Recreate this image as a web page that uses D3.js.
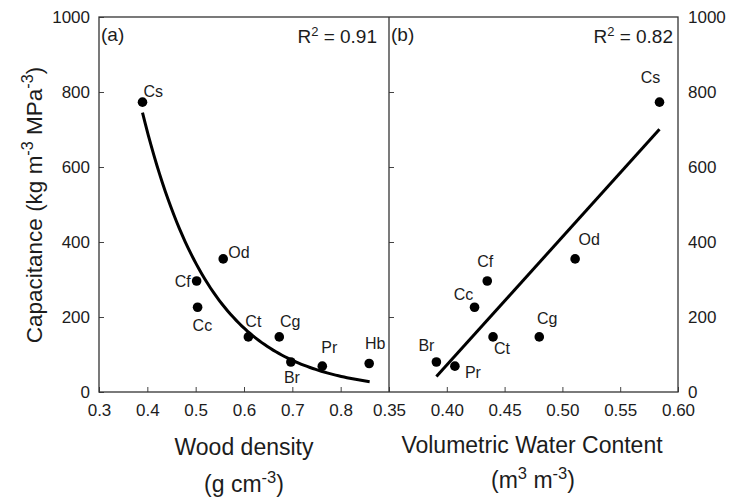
<!DOCTYPE html>
<html><head><meta charset="utf-8">
<script src="https://cdn.jsdelivr.net/npm/d3@7/dist/d3.min.js"></script>
<style>
html,body{margin:0;padding:0;background:#fff;}
svg{display:block;font-family:"Liberation Sans",Arial,sans-serif;}
</style></head>
<body><svg id="c" width="729" height="499"></svg>
<script>
// ---- data ----
const species      = ["Cs","Od","Cf","Cc","Ct","Cg","Br","Pr","Hb"];
const woodDensity  = [0.390,0.557,0.502,0.504,0.609,0.673,0.697,0.762,0.859];
const waterContent = [0.584,0.511,0.435,0.424,0.440,0.480,0.391,0.407,null];
const capacitance  = [773,355,296,226,147,147,80,69,76];
const yTicks  = [0,200,400,600,800,1000];
const xTicksA = [0.3,0.4,0.5,0.6,0.7,0.8,0.9];
const xTicksB = [0.35,0.40,0.45,0.50,0.55,0.60];
// fits: (a) exponential y = a*exp(b*x); (b) linear y = m*x + c
const fitA = {a:11510, b:-7.02, from:0.39, to:0.86, r2:"0.91"};
const fitB = {m:3415, c:-1294, from:0.391, to:0.584, r2:"0.82"};

(function(){
const svg = d3.select("#c");
const ink = "#1c1c1c";
const yTop=17, yBot=392, L0=99, mid=389, R1=678;
const y  = d3.scaleLinear().domain([0,1000]).range([yBot,yTop]);
const xA = d3.scaleLinear().domain([0.3,0.9]).range([L0,mid]);
const xB = d3.scaleLinear().domain([0.35,0.60]).range([mid,R1]);

function styleAxis(g){
  g.select(".domain").remove();
  g.selectAll(".tick line").attr("stroke","#444").attr("stroke-width",1);
  g.selectAll(".tick text").attr("fill",ink).attr("font-size",17)
   .attr("font-family","'Liberation Sans',Arial,sans-serif");
}
svg.append("g").attr("transform",`translate(${L0},0)`)
  .call(d3.axisLeft(y).tickValues(yTicks).tickSize(-5).tickPadding(9).tickFormat(d3.format("d")))
  .call(styleAxis);
svg.append("g").attr("transform",`translate(${mid},0)`)
  .call(d3.axisRight(y).tickValues(yTicks.slice(1,5)).tickSize(5).tickFormat(""))
  .call(styleAxis);
svg.append("g").attr("transform",`translate(${R1},0)`)
  .call(d3.axisRight(y).tickValues(yTicks).tickSize(0).tickPadding(10).tickFormat(d3.format("d")))
  .call(styleAxis);
svg.append("g").attr("transform",`translate(0,${yBot})`)
  .call(d3.axisBottom(xA).tickValues(xTicksA).tickSize(-5).tickPadding(12)
    .tickFormat(d => d===0.9 ? "" : d3.format(".1f")(d)))
  .call(styleAxis);
svg.append("g").attr("transform",`translate(0,${yBot})`)
  .call(d3.axisBottom(xB).tickValues(xTicksB).tickSize(-5).tickPadding(12).tickFormat(d3.format(".2f")))
  .call(styleAxis);

svg.append("rect").attr("x",L0).attr("y",yTop).attr("width",R1-L0).attr("height",yBot-yTop)
  .attr("fill","none").attr("stroke","#333").attr("stroke-width",1.3);
svg.append("line").attr("x1",mid).attr("x2",mid).attr("y1",yTop).attr("y2",yBot)
  .attr("stroke","#333").attr("stroke-width",1.3);

const line = d3.line();
const ptsA = d3.range(fitA.from, fitA.to+1e-9, (fitA.to-fitA.from)/80)
  .map(x => [xA(x), y(fitA.a*Math.exp(fitA.b*x))]);
svg.append("path").attr("d",line(ptsA)).attr("fill","none").attr("stroke","#000").attr("stroke-width",3);
svg.append("path").attr("d",line([fitB.from,fitB.to].map(x=>[xB(x), y(fitB.m*x+fitB.c)])))
  .attr("fill","none").attr("stroke","#000").attr("stroke-width",3);

const rows = species.map((s,i)=>({s, d:woodDensity[i], w:waterContent[i], c:capacitance[i]}));
svg.append("g").selectAll("circle").data(rows).join("circle")
  .attr("cx",r=>xA(r.d)).attr("cy",r=>y(r.c)).attr("r",4.8).attr("fill","#000");
svg.append("g").selectAll("circle").data(rows.filter(r=>r.w!=null)).join("circle")
  .attr("cx",r=>xB(r.w)).attr("cy",r=>y(r.c)).attr("r",4.8).attr("fill","#000");

const offA = {Cs:[1,-5,"start"],Od:[5,-1,"start"],Cf:[-6,6,"end"],Cc:[-5,24,"start"],
  Ct:[5,-10,"middle"],Cg:[11,-10,"middle"],Br:[1,21,"middle"],Pr:[7,-13,"middle"],Hb:[6,-15,"middle"]};
const offB = {Cs:[-9,-19,"middle"],Od:[14,-14,"middle"],Cf:[-2,-14,"middle"],Cc:[-11,-7,"middle"],
  Ct:[9,17,"middle"],Cg:[8,-13,"middle"],Br:[-10,-11,"middle"],Pr:[18,12,"middle"]};
function labels(data, xs, key, off){
  svg.append("g").selectAll("text").data(data).join("text")
    .attr("x",r=>xs(r[key])+off[r.s][0]).attr("y",r=>y(r.c)+off[r.s][1])
    .attr("text-anchor",r=>off[r.s][2]).attr("font-size",16).attr("fill",ink).text(r=>r.s);
}
labels(rows,xA,"d",offA);
labels(rows.filter(r=>r.w!=null),xB,"w",offB);

function tag(x, t){ svg.append("text").attr("x",x).attr("y",41).attr("font-size",19).attr("fill",ink).text(t); }
tag(L0+2,"(a)"); tag(mid+2,"(b)");
function r2(xEnd, v){
  const t = svg.append("text").attr("x",xEnd).attr("y",43).attr("text-anchor","end").attr("font-size",19).attr("fill",ink);
  t.append("tspan").text("R");
  t.append("tspan").attr("dy",-7).attr("font-size",13).text("2");
  t.append("tspan").attr("dy",7).text(" = "+v);
}
r2(377, fitA.r2); r2(673, fitB.r2);

function supText(g, parts, size){
  parts.forEach(p=>{
    if(p.sup) g.append("tspan").attr("dy",-9).attr("font-size",size*0.72).text(p.t);
    else if(p.after) g.append("tspan").attr("dy",9).text(p.t);
    else g.append("tspan").text(p.t);
  });
}
svg.append("text").attr("x",244).attr("y",455).attr("text-anchor","middle").attr("font-size",23).attr("fill",ink).text("Wood density");
const t2 = svg.append("text").attr("x",244).attr("y",492).attr("text-anchor","middle").attr("font-size",23).attr("fill",ink);
supText(t2,[{t:"(g cm"},{t:"-3",sup:true},{t:")",after:true}],23);
svg.append("text").attr("x",532).attr("y",453).attr("text-anchor","middle").attr("font-size",23).attr("fill",ink).text("Volumetric Water Content");
const t4 = svg.append("text").attr("x",533).attr("y",488).attr("text-anchor","middle").attr("font-size",23).attr("fill",ink);
supText(t4,[{t:"(m"},{t:"3",sup:true},{t:" m",after:true},{t:"-3",sup:true},{t:")",after:true}],23);
const ty = svg.append("text").attr("transform","translate(42,205) rotate(-90)").attr("text-anchor","middle")
  .attr("font-size",22.5).attr("fill",ink);
supText(ty,[{t:"Capacitance  (kg m"},{t:"-3",sup:true},{t:" MPa",after:true},{t:"-3",sup:true},{t:")",after:true}],22.5);
})();
</script></body></html>
